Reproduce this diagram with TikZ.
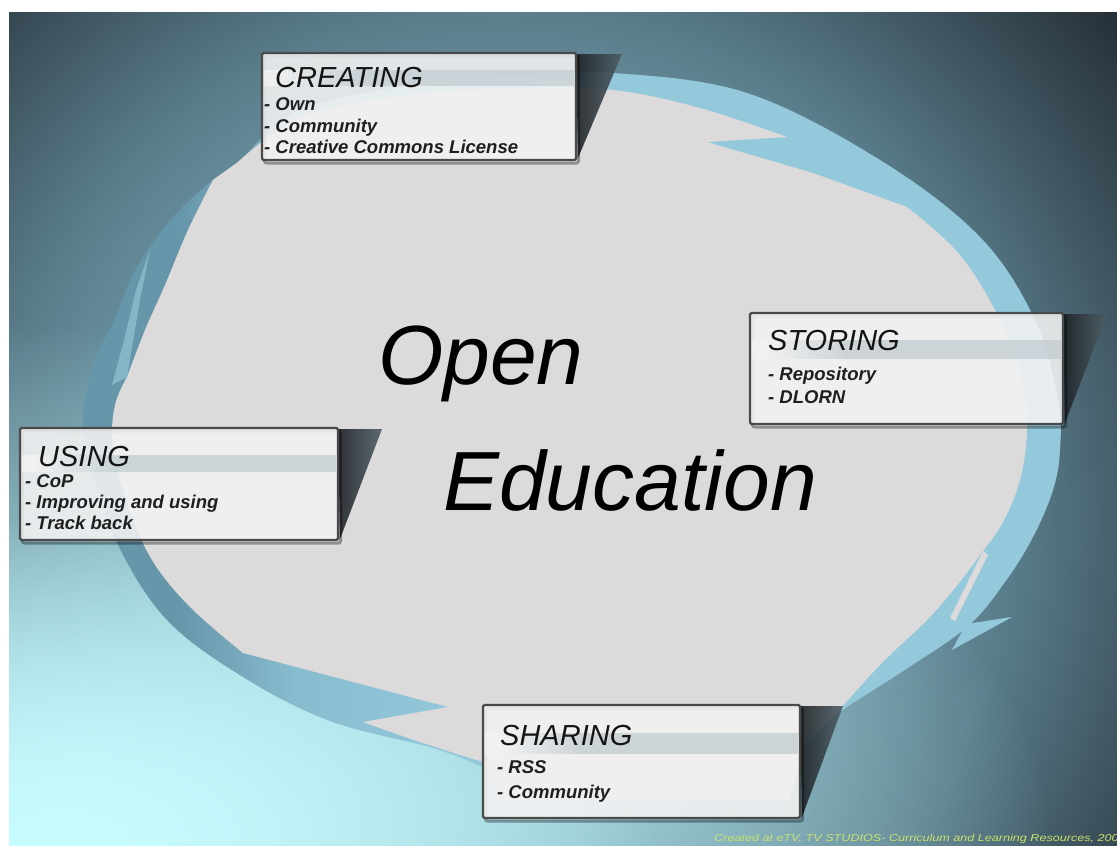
\documentclass[tikz,border=0pt]{standalone}
\usepackage{fontspec}
\setmainfont{Liberation Sans}
\usetikzlibrary{fadings}
\definecolor{blobgray}{HTML}{DCDADB}
\definecolor{ringlight}{HTML}{94C9DC}
\definecolor{ringmid}{HTML}{88BDD0}
\definecolor{ringdark}{HTML}{6696A9}
\definecolor{slitc}{HTML}{84B6C8}
\definecolor{bgA}{HTML}{8FB9C8}
\definecolor{bgB}{HTML}{78A3B3}
\definecolor{bgC}{HTML}{5A7D8B}
\definecolor{bgD}{HTML}{364852}
\definecolor{bgE}{HTML}{252F37}
\definecolor{cyanbg}{HTML}{C7FCFF}
\definecolor{boxfill}{HTML}{F3F3F3}
\definecolor{bandc}{HTML}{C2CCD1}
\definecolor{boxedge}{HTML}{4A4A4A}
\definecolor{wedgedark}{HTML}{1D2226}
\definecolor{wedgelight}{HTML}{4F5E66}
\definecolor{creditc}{HTML}{C8E36C}
\pgfdeclareradialshading{bgshade}{\pgfpoint{0bp}{0bp}}{color(0bp)=(bgA); color(9bp)=(bgB); color(16bp)=(bgC); color(22bp)=(bgD); color(25bp)=(bgE); color(50bp)=(bgE)}
\pgfdeclarehorizontalshading{ringshade}{100bp}{color(0bp)=(ringdark); color(30bp)=(ringdark); color(36bp)=(ringmid); color(45bp)=(ringlight); color(100bp)=(ringlight)}
\pgfdeclarehorizontalshading{bandshade}{100bp}{color(0bp)=(boxfill); color(27bp)=(boxfill); color(40bp)=(bandc); color(100bp)=(bandc)}
\tikzfading[name=cyanfade, inner color=transparent!0, outer color=transparent!100]
\begin{document}
\begin{tikzpicture}[x=1pt,y=-1pt,
  txt/.style={inner sep=0pt, anchor=base west},
  titlefont/.style={font=\fontsize{29}{29}\selectfont\itshape, text=black!92},
  itemfont/.style={font=\fontsize{18.5}{18.5}\selectfont\bfseries\itshape, text=black!88},
  bigfont/.style={font=\fontsize{84}{84}\selectfont\itshape},
  infobox/.style={draw=boxedge, line width=2.2pt, fill=boxfill, fill opacity=0.88, draw opacity=1, rounded corners=1.5pt, inner sep=0pt},
  boxshadow/.style={draw=black, opacity=0.35, line width=3pt, rounded corners=2pt},
  wedge/.style={left color=wedgedark, right color=wedgelight, opacity=0.9},
  band/.style={shading=bandshade, opacity=0.75}]
\useasboundingbox (0,0) rectangle (1117,846);
\fill[white] (0,0) rectangle (1117,846);
% background
\begin{scope}
  \clip (9,12) rectangle (1117,846);
  \shade[shading=bgshade] (500,520) circle (800);
  \fill[cyanbg, path fading=cyanfade] (60,846) ellipse (1000 and 520);
  \fill[cyanbg, path fading=cyanfade] (60,846) ellipse (600 and 330);
\end{scope}
% ring
\shade[shading=ringshade] plot[smooth cycle, tension=0.6] coordinates {(238,162) (300,110) (420,84) (520,76) (613,73) (747,93) (880,160) (980,237) (1035,320) (1058,400) (1060,450) (1053,490) (1033,537) (1005,582) (967,627) (900,673) (833,717) (780,765) (650,795) (540,790) (483,767) (433,748) (330,721) (243,677) (167,620) (118,545) (92,470) (83,417) (95,360) (113,323) (137,267) (175,215) (213,180)};
% gray blob
\fill[blobgray]
  plot[smooth, tension=0.6] coordinates {(238,162) (300,118) (400,96) (520,88) (613,90) (700,108) (787,137)}
  -- (707,142) -- (813,173)
  -- plot[smooth, tension=0.6] coordinates {(907,207) (960,255) (1000,320) (1022,380) (1027,430) (1020,480) (1003,522) (980,555) (955,588) (927,620) (880,665) (833,717)}
  -- (805,740) -- (790,800) -- (500,800) -- (483,762)
  -- plot[smooth, tension=0.6] coordinates {(483,762) (420,742) (363,722)}
  -- (448,707) -- (243,653)
  -- plot[smooth, tension=0.6] coordinates {(243,653) (190,607) (152,560) (128,505) (113,445) (115,405) (127,377)}
  -- plot[smooth, tension=0.6] coordinates {(127,377) (145,330) (165,285) (188,230) (213,180)}
  -- cycle;
% notches and barbs
\fill[slitc] (112,385) -- (127,377) -- (140,300) -- (150,250) -- (136,290) -- (124,340) -- cycle;
\fill[blobgray] (983,551) -- (988,555) -- (955,621) -- (950,618) -- cycle;
\fill[ringlight] (1012,617) -- (966,624) -- (952,650) -- cycle;
% wedges
\shade[wedge] (576,54) -- (622,54) -- (578,158) -- cycle;
\shade[wedge] (1063,314) -- (1107,314) -- (1065,423) -- cycle;
\shade[wedge] (338,429) -- (382,429) -- (340,539) -- cycle;
\shade[wedge] (800,706) -- (843,706) -- (802,817) -- cycle;
% box shadows
\draw[boxshadow] (264.5,56) rectangle (578.5,163);
\draw[boxshadow] (752.5,316) rectangle (1065.5,427);
\draw[boxshadow] (22.5,431) rectangle (340.5,543);
\draw[boxshadow] (485.5,708) rectangle (802.5,821);
% boxes
\node[infobox, minimum width=314pt, minimum height=107pt] (creating) at (419,106.5) {};
\node[infobox, minimum width=313pt, minimum height=111pt] (storing) at (906.5,368.5) {};
\node[infobox, minimum width=318pt, minimum height=112pt] (using) at (179,484) {};
\node[infobox, minimum width=317pt, minimum height=113pt] (sharing) at (641.5,761.5) {};
% header bands
\shade[band] (264,70) rectangle (574,85);
\shade[band] (752,340) rectangle (1061,358);
\shade[band] (22,455) rectangle (336,471);
\shade[band] (485,733) rectangle (798,753);
% texts
\node[txt, titlefont] (creatingt) at (275,87) {CREATING};
\node[txt, itemfont] (creating1) at (264,110) {- Own};
\node[txt, itemfont] (creating2) at (264,132) {- Community};
\node[txt, itemfont] (creating3) at (264,153) {- Creative Commons License};
\node[txt, titlefont] (storingt) at (768,350) {STORING};
\node[txt, itemfont] (storing1) at (768,380) {- Repository};
\node[txt, itemfont] (storing2) at (768,403) {- DLORN};
\node[txt, titlefont] (usingt) at (38,466) {USING};
\node[txt, itemfont] (using1) at (25,487) {- CoP};
\node[txt, itemfont] (using2) at (25,508) {- Improving and using};
\node[txt, itemfont] (using3) at (25,529) {- Track back};
\node[txt, titlefont] (sharingt) at (500,745) {SHARING};
\node[txt, itemfont] (sharing1) at (497,773) {- RSS};
\node[txt, itemfont] (sharing2) at (497,798) {- Community};
\node[txt, bigfont] (open) at (378,384) {Open};
\node[txt, bigfont] (education) at (443,510) {Education};
\node[txt, text=creditc, font=\fontsize{10}{10}\selectfont\itshape] (credit) at (714,841) {\scalebox{1.26}[1]{Created at eTV, TV STUDIOS- Curriculum and Learning Resources, 200}};
\end{tikzpicture}
\end{document}
